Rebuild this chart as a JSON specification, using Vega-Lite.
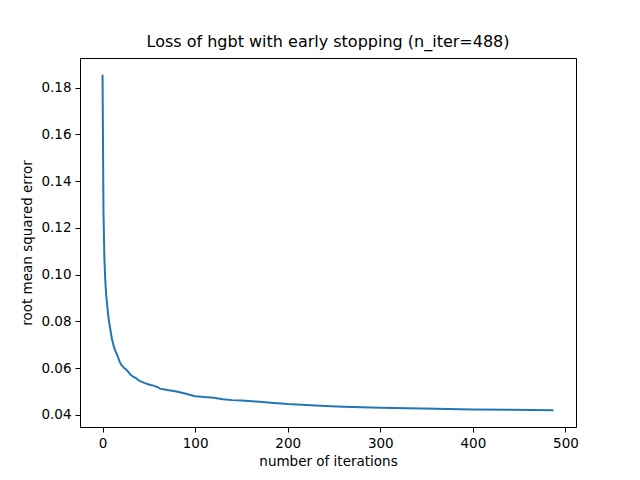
{
  "$schema": "https://vega.github.io/schema/vega-lite/v6.json",
  "autosize": {"type": "none"},
  "padding": {"left": 80, "top": 58, "right": 64, "bottom": 53},
  "width": 496,
  "height": 369,
  "config": {
    "font": "DejaVu Sans",
    "view": {"stroke": "black", "strokeWidth": 1},
    "axis": {
      "grid": false, "domain": false,
      "tickColor": "black", "tickSize": 5, "tickWidth": 1,
      "labelColor": "black", "labelFontSize": 13.5, "labelPadding": 4,
      "titleColor": "black", "titleFontSize": 13.5, "titleFontWeight": "normal"
    }
  },
  "title": {"text": "Loss of hgbt with early stopping (n_iter=488)", "fontSize": 16, "fontWeight": "normal", "color": "black", "offset": 8},
  "data": {"values": [
    {"iteration": 0, "rmse": 0.1855},
    {"iteration": 1, "rmse": 0.127},
    {"iteration": 2, "rmse": 0.107},
    {"iteration": 3, "rmse": 0.097},
    {"iteration": 4, "rmse": 0.091},
    {"iteration": 5, "rmse": 0.087},
    {"iteration": 6, "rmse": 0.083},
    {"iteration": 7, "rmse": 0.080},
    {"iteration": 8, "rmse": 0.0775},
    {"iteration": 9, "rmse": 0.0752},
    {"iteration": 10, "rmse": 0.0728},
    {"iteration": 12, "rmse": 0.0695},
    {"iteration": 14, "rmse": 0.0672},
    {"iteration": 16, "rmse": 0.0655},
    {"iteration": 18, "rmse": 0.0632},
    {"iteration": 20, "rmse": 0.0616},
    {"iteration": 23, "rmse": 0.0602},
    {"iteration": 26, "rmse": 0.0592},
    {"iteration": 28, "rmse": 0.0583},
    {"iteration": 30, "rmse": 0.0572},
    {"iteration": 33, "rmse": 0.0563},
    {"iteration": 36, "rmse": 0.0557},
    {"iteration": 40, "rmse": 0.0545},
    {"iteration": 45, "rmse": 0.0537},
    {"iteration": 50, "rmse": 0.0530},
    {"iteration": 55, "rmse": 0.0525},
    {"iteration": 60, "rmse": 0.0518},
    {"iteration": 62, "rmse": 0.0512},
    {"iteration": 70, "rmse": 0.0506},
    {"iteration": 80, "rmse": 0.0500},
    {"iteration": 90, "rmse": 0.0490},
    {"iteration": 95, "rmse": 0.0485},
    {"iteration": 100, "rmse": 0.0480},
    {"iteration": 110, "rmse": 0.0476},
    {"iteration": 120, "rmse": 0.0473},
    {"iteration": 130, "rmse": 0.0467},
    {"iteration": 140, "rmse": 0.0463},
    {"iteration": 150, "rmse": 0.0461},
    {"iteration": 170, "rmse": 0.0456},
    {"iteration": 185, "rmse": 0.0451},
    {"iteration": 200, "rmse": 0.0446},
    {"iteration": 220, "rmse": 0.0442},
    {"iteration": 240, "rmse": 0.0438},
    {"iteration": 260, "rmse": 0.0435},
    {"iteration": 280, "rmse": 0.0433},
    {"iteration": 300, "rmse": 0.0430},
    {"iteration": 330, "rmse": 0.0428},
    {"iteration": 360, "rmse": 0.0426},
    {"iteration": 400, "rmse": 0.0423},
    {"iteration": 440, "rmse": 0.0422},
    {"iteration": 487, "rmse": 0.0420}
  ]},
  "mark": {"type": "line", "color": "#1f77b4", "strokeWidth": 2},
  "encoding": {
    "x": {
      "field": "iteration", "type": "quantitative",
      "title": "number of iterations",
      "scale": {"domain": [-24.35, 511.35], "nice": false, "zero": false},
      "axis": {"values": [0, 100, 200, 300, 400, 500], "titlePadding": 5}
    },
    "y": {
      "field": "rmse", "type": "quantitative",
      "title": "root mean squared error",
      "scale": {"domain": [0.0348, 0.1927], "nice": false, "zero": false},
      "axis": {"values": [0.04, 0.06, 0.08, 0.1, 0.12, 0.14, 0.16, 0.18], "format": ".2f", "titlePadding": 6}
    }
  }
}
